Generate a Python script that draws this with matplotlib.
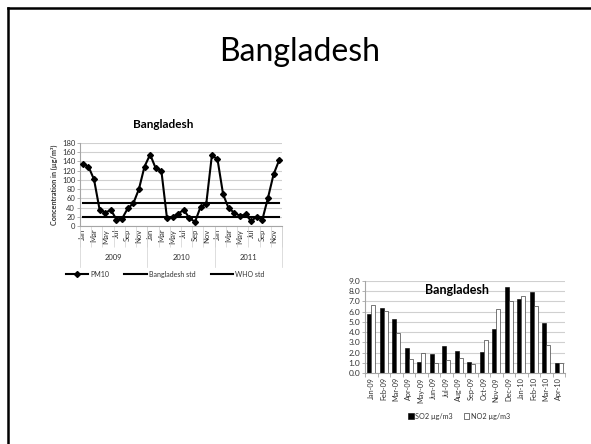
import numpy as np
import matplotlib.pyplot as plt
from matplotlib.lines import Line2D
from matplotlib.patches import Patch
import matplotlib.transforms as mtransforms

plt.rcParams['font.family'] = ['Lato', 'DejaVu Sans']

# Monthly PM10 (2009-2011) and the two standards
years = ['2009', '2010', '2011']
months = ['Jan', 'Feb', 'Mar', 'Apr', 'May', 'Jun',
          'Jul', 'Aug', 'Sep', 'Oct', 'Nov', 'Dec']
pm10 = [134, 129, 101, 35, 29, 35, 14, 16, 38, 49, 80, 129,
        155, 125, 120, 17, 20, 27, 35, 17, 9, 42, 48, 153,
        145, 69, 38, 29, 22, 25, 11, 20, 14, 61, 112, 143]
bangladesh_std = 50
who_std = 20

# Monthly SO2 / NO2 (Jan-09 .. Apr-10)
gas_months = ['Jan-09', 'Feb-09', 'Mar-09', 'Apr-09', 'May-09', 'Jun-09',
              'Jul-09', 'Aug-09', 'Sep-09', 'Oct-09', 'Nov-09', 'Dec-09',
              'Jan-10', 'Feb-10', 'Mar-10', 'Apr-10']
so2 = [5.8, 6.4, 5.3, 2.4, 1.1, 1.9, 2.6, 2.2, 1.1, 2.1, 4.3, 8.4, 7.2, 7.9, 4.9, 1.0]
no2 = [6.7, 6.1, 3.9, 1.4, 2.0, 1.0, 1.3, 1.5, 0.9, 3.2, 6.3, 7.0, 7.5, 6.6, 2.7, 1.0]

txt = '#333333'
grid = '#d0d0d0'
axis_col = '#a6a6a6'

fig = plt.figure(figsize=(5.91, 4.44), dpi=100)

# slide frame and heading
fig.add_artist(Line2D([8 / 591, 8 / 591], [0, 1 - 8 / 444], color='black', lw=1.8))
fig.add_artist(Line2D([8 / 591, 1], [1 - 8 / 444, 1 - 8 / 444], color='black', lw=1.8))
fig.text(300 / 591, 1 - 52 / 444, 'Bangladesh', ha='center', va='center',
         fontsize=23, color='black')

# ---- PM10 line chart ----
ax1 = fig.add_axes([80 / 591, 1 - 226 / 444, 202 / 591, 83 / 444])
labels = [m for y in years for m in months]
x = np.arange(len(labels))
ax1.plot(x, pm10, color='black', lw=1.5, marker='D', ms=3, label='PM10', zorder=3)
ax1.plot(x, [bangladesh_std] * len(x), color='black', lw=1.5, label='Bangladesh std')
ax1.plot(x, [who_std] * len(x), color='black', lw=1.5, label='WHO std')

ax1.set_xlim(-0.5, len(x) - 0.5)
ax1.set_ylim(0, 180)
ax1.set_yticks(np.arange(0, 181, 20))
ax1.yaxis.grid(True, color=grid, lw=0.8)
ax1.set_axisbelow(True)
for s in ['top', 'right']:
    ax1.spines[s].set_visible(False)
for s in ['left', 'bottom']:
    ax1.spines[s].set_color(axis_col)
    ax1.spines[s].set_linewidth(0.8)
ax1.tick_params(axis='y', labelsize=5.5, colors=axis_col, labelcolor=txt, length=2, width=0.6, pad=1.5)

ax1.set_xticks(x)
ax1.set_xticklabels([lab if i % 2 == 0 else '' for i, lab in enumerate(labels)],
                    rotation=90, fontsize=5.5, color=txt)
ax1.tick_params(axis='x', which='major', length=0, pad=2)
ax1.set_xticks(np.arange(-0.5, len(x), 2), minor=True)
ax1.tick_params(axis='x', which='minor', length=15, width=0.5, color=grid)

# year group labels and separators under the month labels
tr = mtransforms.blended_transform_factory(ax1.transData, ax1.transAxes)
for i, yr in enumerate(years):
    ax1.text(i * 12 + 5.5, -0.375, yr, transform=tr, ha='center', va='center',
             fontsize=5.5, color=txt)
for b in np.arange(-0.5, len(x), 12):
    ax1.plot([b, b], [0, -0.49], transform=tr, color=grid, lw=0.5, clip_on=False)

ax1.set_ylabel('Concentration in (µg/m³)', fontsize=5.2, fontweight='bold', color=txt, labelpad=3)
ax1.set_title('Bangladesh', fontsize=8.5, fontweight='bold', color='black', pad=11, x=0.41)
ax1.legend(loc='center', bbox_to_anchor=(165 / 591, 1 - 274 / 444),
           bbox_transform=fig.transFigure, ncol=3, frameon=False, fontsize=5,
           handlelength=3.2, columnspacing=2.2, handletextpad=0.3, labelcolor=txt)

# ---- SO2 / NO2 bar chart ----
ax2 = fig.add_axes([365 / 591, 1 - 373 / 444, 200 / 591, 92 / 444])
gx = np.arange(len(gas_months))
w = 0.32
ax2.bar(gx - w / 2, so2, width=w, color='black', edgecolor='black', lw=0.4)
ax2.bar(gx + w / 2, no2, width=w, color='white', edgecolor='#404040', lw=0.5)
ax2.set_xlim(-0.5, len(gx) - 0.5)
ax2.set_ylim(0, 9)
ax2.set_yticks(np.arange(0, 9.01, 1))
ax2.set_yticklabels([f'{v:.1f}' for v in np.arange(0, 9.01, 1)])
ax2.yaxis.grid(True, color=grid, lw=0.8)
ax2.set_axisbelow(True)
for s in ['top', 'right']:
    ax2.spines[s].set_visible(False)
for s in ['left', 'bottom']:
    ax2.spines[s].set_color(axis_col)
    ax2.spines[s].set_linewidth(0.8)
ax2.tick_params(axis='y', labelsize=6, colors=axis_col, labelcolor=txt, length=2, width=0.6, pad=1.5)
ax2.set_xticks(gx)
ax2.set_xticklabels(gas_months, rotation=90, fontsize=5.2, color=txt)
ax2.tick_params(axis='x', which='major', length=0, pad=3)
ax2.set_xticks(np.arange(-0.5, len(gx), 1), minor=True)
ax2.tick_params(axis='x', which='minor', length=3, width=0.6, color=axis_col)

ax2.text(0.46, 0.9, 'Bangladesh', transform=ax2.transAxes, ha='center', va='center',
         fontsize=9, fontweight='bold', color='black')

handles = [Patch(facecolor='black', edgecolor='black', lw=0.4),
           Patch(facecolor='white', edgecolor='#404040', lw=0.5)]
fig.legend(handles, ['SO2 µg/m3', 'NO2 µg/m3'], loc='center',
           bbox_to_anchor=(459 / 591, 1 - 416 / 444), ncol=2, frameon=False,
           fontsize=5.2, handlelength=0.8, handleheight=0.8, handletextpad=0.2,
           columnspacing=1.5, labelcolor=txt)

fig.savefig('out.png', dpi=100)
